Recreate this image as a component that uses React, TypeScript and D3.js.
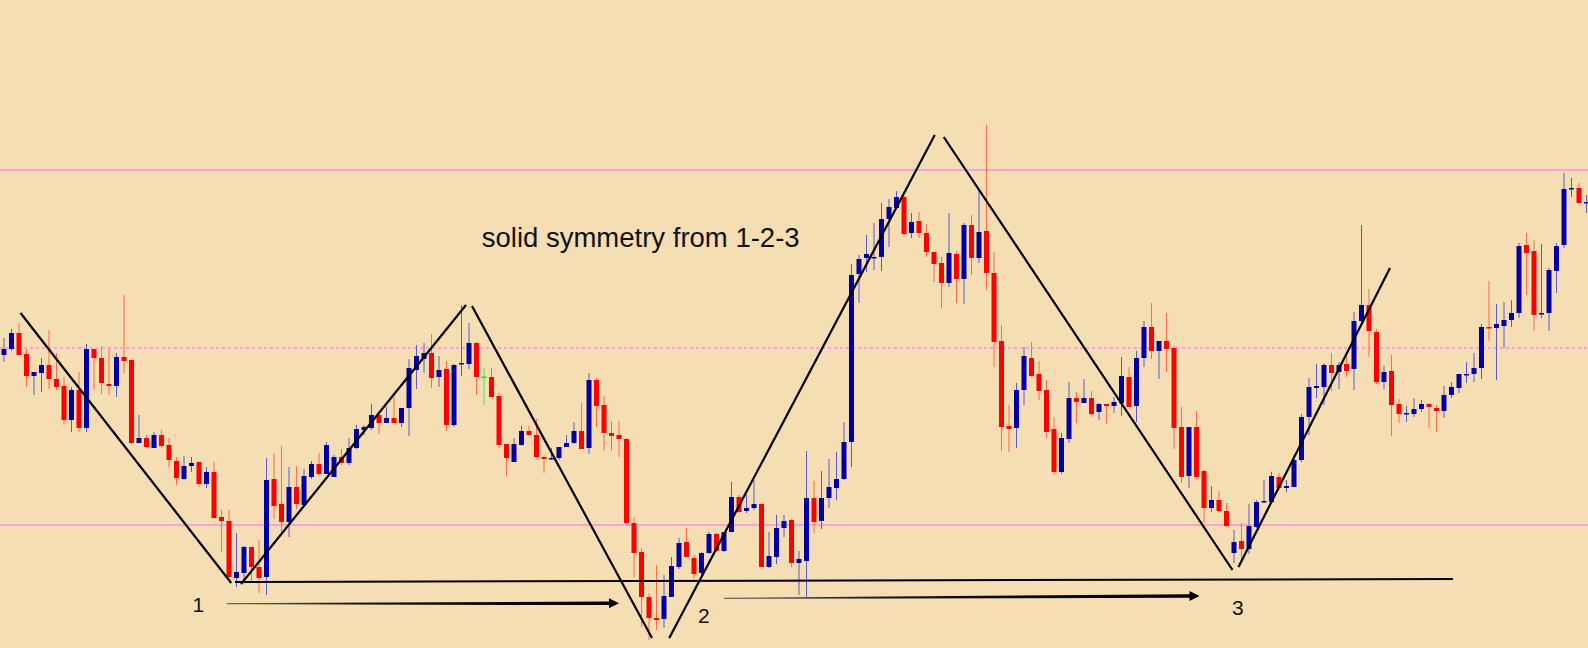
import React, { useEffect, useRef } from 'react';
import * as d3 from 'd3';

// candle prices (points), one entry per bar
const opens = [
  345, 351, 367, 346, 324, 327, 335, 321, 314, 280,
  310, 272, 351, 342, 316, 314, 343, 340, 257, 262,
  252, 265, 255, 239, 221, 234, 238, 216, 228, 183,
  179, 122, 127, 153, 133, 123, 221, 196, 178, 213,
  195, 223, 236, 226, 223, 243, 237, 252, 270, 272,
  285, 277, 282, 277, 292, 330, 341, 347, 323, 331,
  275, 336, 336, 357, 323.5, 323, 304, 256, 238, 255,
  269, 265, 243, 241, 242, 253, 257, 269, 252, 320,
  295, 267, 265, 261, 177, 148, 103, 82, 81, 103,
  133, 158, 142, 127, 147, 166, 149, 168, 203, 189,
  192, 196, 133, 143, 172, 180, 137, 139, 202, 179,
  202, 212, 221, 258, 426, 442, 442, 443, 481, 492,
  503, 467, 479, 467, 448, 437, 417, 446, 421, 475,
  442, 469, 427, 359, 274, 272, 310, 342, 326, 310,
  271, 228, 261, 302, 297, 302, 288, 296, 294, 297,
  323, 294, 342, 373, 349, 359, 352, 273, 224, 273,
  229, 192, 200, 189, 147, 159, 151, 173, 198, 198,
  223, 212, 213, 240, 283, 312, 313, 335, 328, 336,
  331, 379, 395, 368, 318, 329, 296, 286, 286, 291,
  296, 292, 289, 305, 312, 325, 326, 332, 373, 372,
  374, 380, 387, 455, 449, 386, 387, 429, 455, 511,
  512, 497,
];

const highs = [
  362, 371, 377, 351, 328, 342, 370, 347, 323, 313,
  328, 356, 351, 354, 352, 347, 405, 341, 285, 265,
  268, 270, 262, 243, 244, 243, 238, 233, 238, 190,
  190, 167, 154, 153, 160, 242, 247, 254, 233, 234,
  231, 239, 247, 258, 245, 251, 262, 275, 275, 296,
  286, 293, 303, 292, 341, 355, 357, 366, 344, 339,
  336, 395, 377, 358, 332, 332, 307, 256, 262, 274,
  274, 281, 245, 252, 253, 265, 278, 297, 327, 322,
  304, 279, 279, 262, 183, 152, 107, 135, 125, 143,
  162, 172, 145, 148, 168, 167, 168, 218, 205, 205,
  220, 197, 168, 185, 185, 181, 149, 249, 219, 229,
  241, 248, 278, 436, 445, 465, 477, 497, 501, 509,
  504, 487, 488, 476, 448, 443, 487, 449, 477, 485,
  510, 575, 448, 375, 295, 317, 353, 358, 339, 320,
  283, 267, 318, 308, 321, 309, 297, 296, 303, 343,
  333, 349, 379, 397, 359, 387, 354, 293, 273, 289,
  230, 214, 209, 197, 170, 177, 196, 200, 220, 228,
  227, 220, 245, 286, 322, 336, 337, 347, 338, 348,
  388, 475, 411, 371, 334, 345, 301, 294, 302, 300,
  297, 295, 314, 318, 326, 338, 347, 376, 419, 396,
  398, 400, 457, 467, 460, 456, 432, 457, 527, 522,
  517, 505,
];

const lows = [
  338, 349, 345, 313, 305, 308, 311, 310, 275, 268,
  268, 268, 310, 306, 305, 303, 327, 256, 257, 252,
  252, 252, 233, 215, 220, 228, 213, 212, 181, 148,
  122, 113, 118, 118, 107, 105, 181, 168, 163, 191,
  193, 221, 225, 226, 223, 235, 235, 251, 265, 270,
  266, 277, 277, 273, 264, 311, 327, 312, 313, 269,
  273, 324, 331, 305, 295, 303, 252, 224, 238, 254,
  264, 241, 227, 240, 240, 253, 256, 251, 246, 273,
  249, 249, 243, 176, 123, 73, 60, 70, 72, 103,
  131, 143, 122, 124, 146, 148, 148, 168, 187, 187,
  190, 133, 132, 136, 163, 133, 105, 103, 167, 171,
  192, 200, 220, 233, 397, 428, 430, 429, 453, 492,
  465, 462, 462, 443, 418, 392, 413, 397, 396, 425,
  437, 410, 333, 249, 248, 252, 295, 323, 300, 262,
  226, 226, 257, 277, 297, 283, 280, 276, 287, 284,
  293, 278, 333, 341, 321, 328, 251, 217, 212, 221,
  177, 188, 188, 173, 137, 140, 146, 172, 197, 198,
  210, 208, 213, 238, 265, 302, 295, 309, 311, 323,
  310, 378, 343, 316, 311, 264, 277, 278, 283, 288,
  272, 268, 282, 302, 307, 317, 318, 321, 359, 320,
  352, 373, 382, 405, 369, 382, 369, 407, 452, 503,
  496, 487,
];

const closes = [
  351, 367, 345, 324, 328, 335, 321, 313, 280, 310,
  272, 351, 342, 317, 314, 343, 339, 257, 262, 253,
  265, 254, 240, 222, 234, 237, 216, 228, 182, 179,
  123, 128, 153, 133, 122, 220, 194, 178, 213, 196,
  224, 236, 226, 255, 243, 237, 252, 271, 273, 285,
  277, 282, 277, 292, 332, 344, 347, 322, 330, 275,
  335, 337, 357, 323, 323.5, 303, 255, 242, 256, 269,
  265, 243, 241, 242, 253, 257, 269, 251, 320, 294,
  267, 264, 261, 177, 147, 103, 82, 80, 104, 134,
  157, 143, 126, 147, 166, 149, 168, 203, 188, 192,
  196, 133, 144, 172, 179, 137, 141, 202, 178, 202,
  213, 221, 258, 425, 441, 446, 443, 481, 493, 503,
  466, 478, 467, 448, 436, 417, 447, 421, 475, 442,
  468, 427, 358, 273, 271, 310, 344, 324, 309, 268,
  228, 262, 302, 298, 302, 286, 296, 294, 298, 324,
  293, 342, 373, 349, 359, 351, 272, 223, 273, 223,
  192, 200, 189, 174, 158, 151, 174, 198, 199, 224,
  212, 214, 240, 283, 313, 314, 335, 327, 335, 329,
  379, 395, 369, 318, 328, 295, 286, 287, 291, 296,
  293, 289, 305, 313, 326, 326, 332, 373, 372, 376,
  380, 387, 454, 447, 385, 387, 430, 454, 511, 512,
  497, 498,
];

// horizontal reference levels
const levelPrices = [530, 352, 175];
const levelDashed = [false, true, false];

// hand-drawn swing legs, each as [barIndex, price] pairs
const swingLegs: [number, number][][] = [
  [[2.2, 387], [30.3, 117]],
  [[31.6, 116], [61.6, 395]],
  [[62.4, 394], [86.4, 62]],
  [[88.7, 62], [124.1, 565]],
  [[125.3, 563], [163.8, 130]],
  [[164.6, 133], [184.8, 432]],
];
const baseLine: [number, number][] = [[30.8, 118], [193.2, 121]];
const arrows: [number, number][][] = [
  [[29.7, 96.3], [82.0, 96.7]],
  [[96.0, 101.7], [159.4, 104]],
];
const pointLabels = ['1', '2', '3'];
const pointLabelPos: [number, number][] = [[25.9, 88.3], [93.3, 77], [164.5, 85]];
const title = 'solid symmetry from 1-2-3';
const titlePos: [number, number] = [63.7, 453.3];

const WIDTH = 1588;
const HEIGHT = 648;

const App: React.FC = () => {
  const svgRef = useRef<SVGSVGElement>(null);

  useEffect(() => {
    if (!svgRef.current) return;
    const svg = d3.select(svgRef.current);
    svg.selectAll('*').remove();

    const x = d3.scaleLinear().domain([0, opens.length - 1]).range([4, 4 + 7.5 * (opens.length - 1)]);
    const y = d3.scaleLinear().domain([52, 700]).range([HEIGHT, 0]);
    const font = '"Liberation Sans", Arial, Helvetica, sans-serif';

    svg.append('rect').attr('width', WIDTH).attr('height', HEIGHT).attr('fill', '#f5deb3');

    // level lines
    svg.selectAll('.level')
      .data(levelPrices)
      .enter().append('line')
      .attr('x1', 0).attr('x2', WIDTH)
      .attr('y1', d => Math.round(y(d))).attr('y2', d => Math.round(y(d)))
      .attr('stroke', '#fb9fe2')
      .attr('stroke-width', 2)
      .attr('stroke-dasharray', (d, i) => (levelDashed[i] ? '3,3' : null));

    // candles
    const bars = d3.range(opens.length);
    const colorOf = (i: number) =>
      closes[i] > opens[i] ? 'up' : closes[i] < opens[i] ? 'down' : 'flat';
    const bodyFill: Record<string, string> = { up: '#0000a6', down: '#ff0000', flat: '#33cc33' };
    const wickFill: Record<string, string> = { up: '#5a5acb', down: '#ff6a48', flat: '#55dd55' };

    const g = svg.append('g');
    g.selectAll('.wick')
      .data(bars)
      .enter().append('line')
      .attr('x1', i => x(i)).attr('x2', i => x(i))
      .attr('y1', i => y(highs[i])).attr('y2', i => y(lows[i]))
      .attr('stroke', i => wickFill[colorOf(i)])
      .attr('stroke-width', 1);

    g.selectAll('.body')
      .data(bars)
      .enter().append('rect')
      .attr('x', i => x(i) - 2.5)
      .attr('width', 5)
      .attr('y', i => y(Math.max(opens[i], closes[i])))
      .attr('height', i => Math.max(1.5, Math.abs(y(opens[i]) - y(closes[i]))))
      .attr('fill', i => bodyFill[colorOf(i)]);

    // swing legs and base line
    const line = d3.line<[number, number]>().x(d => x(d[0])).y(d => y(d[1]));
    svg.selectAll('.leg')
      .data(swingLegs)
      .enter().append('path')
      .attr('d', d => line(d))
      .attr('fill', 'none')
      .attr('stroke', '#000')
      .attr('stroke-width', 2.2);

    svg.append('path')
      .attr('d', line(baseLine))
      .attr('fill', 'none')
      .attr('stroke', '#000')
      .attr('stroke-width', 2);

    // tapered arrows
    const defs = svg.append('defs');
    const grad = defs.append('linearGradient').attr('id', 'shaft').attr('x1', '0%').attr('x2', '100%');
    grad.append('stop').attr('offset', '0%').attr('stop-color', '#6a6a6a');
    grad.append('stop').attr('offset', '35%').attr('stop-color', '#111');
    grad.append('stop').attr('offset', '100%').attr('stop-color', '#000');

    const arrowPath = (a: [number, number][]) => {
      const x0 = x(a[0][0]), y0 = y(a[0][1]);
      const x1 = x(a[1][0]), y1 = y(a[1][1]);
      const len = Math.hypot(x1 - x0, y1 - y0);
      const ux = (x1 - x0) / len, uy = (y1 - y0) / len;
      const nx = -uy, ny = ux;
      const hl = 10, hw = 5, w0 = 0.6, w1 = 1.8;
      const bx = x1 - ux * hl, by = y1 - uy * hl;
      const p = d3.path();
      p.moveTo(x0 + nx * w0, y0 + ny * w0);
      p.lineTo(bx + nx * w1, by + ny * w1);
      p.lineTo(bx + nx * hw, by + ny * hw);
      p.lineTo(x1, y1);
      p.lineTo(bx - nx * hw, by - ny * hw);
      p.lineTo(bx - nx * w1, by - ny * w1);
      p.lineTo(x0 - nx * w0, y0 - ny * w0);
      p.closePath();
      return p.toString();
    };
    svg.selectAll('.arrow')
      .data(arrows)
      .enter().append('path')
      .attr('d', d => arrowPath(d))
      .attr('fill', 'url(#shaft)');

    // texts
    svg.append('text')
      .attr('x', x(titlePos[0]))
      .attr('y', y(titlePos[1]))
      .style('font-family', font)
      .style('font-size', '27.5px')
      .style('fill', '#111')
      .text(title);

    svg.selectAll('.plabel')
      .data(pointLabels)
      .enter().append('text')
      .attr('x', (d, i) => x(pointLabelPos[i][0]))
      .attr('y', (d, i) => y(pointLabelPos[i][1]))
      .attr('text-anchor', 'middle')
      .style('font-family', font)
      .style('font-size', '21px')
      .style('fill', '#111')
      .text(d => d);
  }, []);

  return (
    <div style={{ position: 'fixed', left: 0, top: 0, width: WIDTH, height: HEIGHT, background: '#f5deb3' }}>
      <svg ref={svgRef} width={WIDTH} height={HEIGHT} style={{ display: 'block' }}></svg>
    </div>
  );
};

export default App;
